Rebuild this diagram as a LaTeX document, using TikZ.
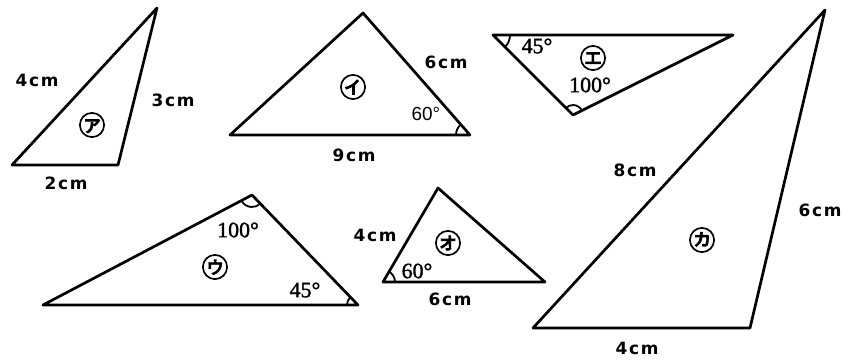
\documentclass[tikz,border=0pt]{standalone}
\usepackage{fontspec}
\setmainfont{DejaVu Sans}
\newfontfamily\cmfont[LetterSpace=10]{DejaVu Sans Bold}
\newfontfamily\degfont[FakeBold=1.5]{Liberation Serif}
\newfontfamily\arialfont{Liberation Sans}
\newfontfamily\cjk[FakeBold=3]{Noto Sans CJK JP}
\usetikzlibrary{angles, positioning}

\tikzset{
    tri/.style={line width=2.7bp, line join=round},
    cmlab/.style={inner sep=0pt, font=\cmfont\fontsize{17}{17}\selectfont},
    deglab/.style={inner sep=0pt, font=\degfont\fontsize{22}{22}\selectfont},
    arlab/.style={inner sep=0pt, font=\arialfont\fontsize{19}{19}\selectfont},
    kana/.style={inner sep=0pt, font=\cjk\fontsize{27}{27}\selectfont},
    anglemark/.style={draw, line width=1.8bp}
}

\begin{document}
\begin{tikzpicture}[x=1bp, y=1bp]
    \useasboundingbox (0,0) rectangle (844,363);

    % vertices
    \coordinate (a1) at (12,198);  \coordinate (a2) at (157,355); \coordinate (a3) at (118,198);
    \coordinate (b1) at (230,228); \coordinate (b2) at (363,350); \coordinate (b3) at (470,228);
    \coordinate (c1) at (43,58);   \coordinate (c2) at (252,168); \coordinate (c3) at (358,58);
    \coordinate (d1) at (493,328); \coordinate (d2) at (733,328); \coordinate (d3) at (573,248);
    \coordinate (e1) at (383,81);  \coordinate (e2) at (438,175); \coordinate (e3) at (545,81);
    \coordinate (f1) at (533,35);  \coordinate (f2) at (825,353); \coordinate (f3) at (750,35);

    \foreach \t in {a,b,c,d,e,f} { \draw [tri] (\t1) -- (\t2) -- (\t3) -- cycle; }

    % angle marks
    \pic [anglemark, angle radius=14bp] {angle = b2--b3--b1};
    \pic [anglemark, angle radius=17bp] {angle = d3--d1--d2};
    \pic [anglemark, angle radius=10bp] {angle = d2--d3--d1};
    \pic [anglemark, angle radius=12bp] {angle = c1--c2--c3};
    \pic [anglemark, angle radius=11bp] {angle = c2--c3--c1};
    \pic [anglemark, angle radius=12bp] {angle = e3--e1--e2};

    % labels
    \node (ka) at (92,238) [kana] {㋐};
    \node (la1) at (37,283) [cmlab] {4cm};
    \node (la2) at (173,263) [cmlab] {3cm};
    \node (la3) at (66,180) [cmlab] {2cm};

    \node (kb) at (353,276) [kana] {㋑};
    \node (lb1) at (446,301) [cmlab] {6cm};
    \node (lb2) at (354,208) [cmlab] {9cm};
    \node (lb3) at (426,249) [arlab] {60°};

    \node (kc) at (215,96) [kana] {㋒};
    \node (lc1) at (238,133) [deglab] {100°};
    \node (lc2) at (305,73) [deglab] {45°};

    \node (kd) at (593,305) [kana] {㋓};
    \node (ld1) at (537,317) [deglab] {45°};
    \node (ld2) at (590,278) [deglab] {100°};

    \node (ke) at (448,120) [kana] {㋔};
    \node (le1) at (375,128) [cmlab] {4cm};
    \node (le2) at (450,64) [cmlab] {6cm};
    \node (le3) at (417,92) [deglab] {60°};

    \node (kf) at (702,123) [kana] {㋕};
    \node (lf1) at (635,193) [cmlab] {8cm};
    \node (lf2) at (820,153) [cmlab] {6cm};
    \node (lf3) at (637,15) [cmlab] {4cm};
\end{tikzpicture}
\end{document}
